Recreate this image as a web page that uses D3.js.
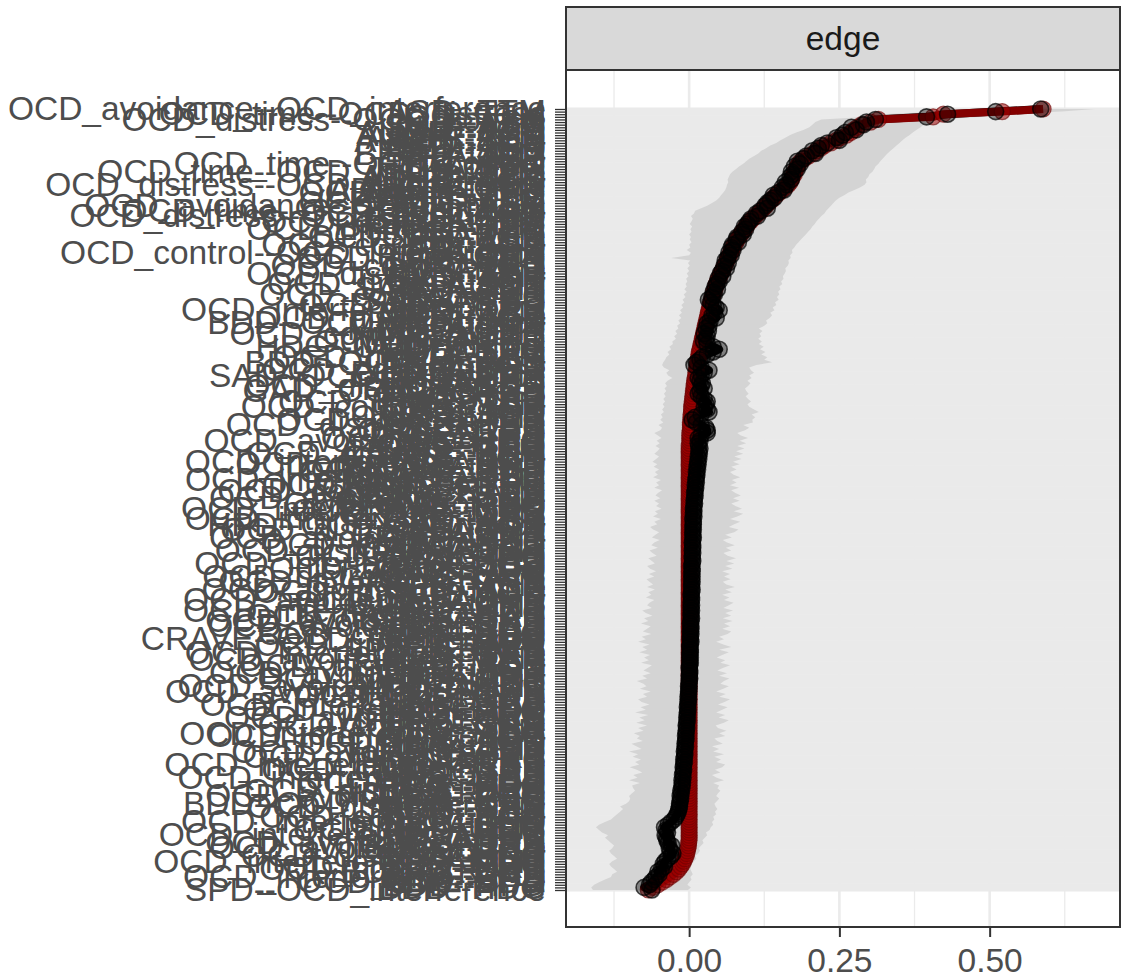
<!DOCTYPE html>
<html><head><meta charset="utf-8">
<script src="https://cdn.jsdelivr.net/npm/d3@7"></script>
<style>body{margin:0;background:#fff;} text{font-family:"Liberation Sans",Arial,sans-serif;}</style>
</head><body><svg id="chart" width="1122" height="980"></svg>
<script>
// edges ordered from bottom (smallest sample value) to top (largest)
const edges = [
"SPD--OCD_interference","BDD--HDG","BDD--HPD","OCD_time--BDD","BDD--SPD","OCD_interference--HPD","BDD--GAD","BDD--CRAVE","OCD_control--BDD","BDD--ORS",
"BDD--PHQ","OCD_interference--AUDIT","BDD--MDD","OCD_distress--HDG","BDD--SAD","BDD--PD","OCD_avoidance--SPD","BDD--PTSD","OCD_avoidance--ORS","BDD--ADHD",
"BDD--TIC","OCD_interference--ADHD","BDD--BED","OCD_time--HDG","BDD--AUDIT","BDD--SUD","OCD_interference--PHQ","BDD--IGD","OCD_control--HPD","BDD--ASD",
"BDD--TTM","HDG--HPD","OCD_distress--SPD","BDD--OCD_interference","HDG--SPD","HDG--GAD","OCD_avoidance--PHQ","HDG--CRAVE","OCD_distress--HPD","HDG--ORS",
"HDG--PHQ","OCD_time--HPD","HDG--MDD","OCD_interference--MDD","HDG--SAD","HDG--PD","OCD_control--SPD","HDG--PTSD","OCD_interference--PTSD","HDG--ADHD",
"HDG--TIC","OCD_distress--ORS","HDG--BED","OCD_avoidance--PD","HDG--AUDIT","HDG--SUD","OCD_time--SPD","HDG--IGD","HDG--ASD","OCD_interference--PD",
"OCD_interference--HDG","HDG--TTM","HPD--SPD","OCD_control--GAD","HPD--GAD","HPD--CRAVE","OCD_avoidance--TIC","HPD--ORS","HPD--PHQ","OCD_distress--PHQ",
"HPD--MDD","OCD_interference--TIC","HPD--SAD","HPD--PD","OCD_time--GAD","HPD--PTSD","OCD_avoidance--CRAVE","HPD--ADHD","OCD_avoidance--AUDIT","HPD--TIC",
"HPD--BED","OCD_control--ORS","HPD--AUDIT","OCD_avoidance--BED","HPD--SUD","HPD--IGD","OCD_distress--MDD","HPD--ASD","OCD_avoidance--PTSD","HPD--TTM",
"SPD--GAD","OCD_interference--BED","SPD--CRAVE","SPD--ORS","OCD_time--CRAVE","SPD--PHQ","CRAVE--OCD_interference","SPD--MDD","OCD_control--PHQ","SPD--SAD",
"SPD--PD","OCD_avoidance--SUD","SPD--PTSD","OCD_avoidance--GAD","SPD--ADHD","OCD_distress--SAD","SPD--TIC","OCD_interference--SUD","SPD--BED","SPD--AUDIT",
"OCD_time--ORS","OCD_avoidance--ADHD","SPD--SUD","SPD--IGD","OCD_control--MDD","OCD_avoidance--MDD","SPD--ASD","SPD--TTM","OCD_avoidance--IGD","GAD--CRAVE",
"OCD_distress--CRAVE","GAD--ORS","GAD--PHQ","OCD_distress--PD","GAD--MDD","OCD_interference--IGD","GAD--SAD","GAD--PD","OCD_time--PHQ","GAD--PTSD",
"OCD_distress--AUDIT","GAD--ADHD","OCD_control--SAD","GAD--TIC","GAD--BED","OCD_avoidance--ASD","GAD--AUDIT","GAD--SUD","OCD_distress--ADHD","GAD--IGD",
"HPD--OCD_avoidance","GAD--ASD","OCD_interference--ASD","GAD--TTM","CRAVE--ORS","OCD_time--MDD","OCD_interference--GAD","CRAVE--PHQ","OCD_control--PD","CRAVE--MDD",
"OCD_avoidance--TTM","CRAVE--SAD","CRAVE--PD","OCD_control--CRAVE","CRAVE--PTSD","OCD_distress--TIC","CRAVE--ADHD","OCD_interference--TTM","CRAVE--TIC","CRAVE--BED",
"OCD_time--SAD","CRAVE--AUDIT","CRAVE--SUD","OCD_control--ADHD","OCD_interference--SAD","CRAVE--IGD","CRAVE--ASD","OCD_distress--BED","CRAVE--TTM","ORS--PHQ",
"ORS--MDD","ORS--SAD","OCD_avoidance--HDG","OCD_time--PD","ORS--PD","ORS--PTSD","ORS--ADHD","ORS--TIC","OCD_distress--PTSD","ORS--BED",
"OCD_control--TIC","ORS--AUDIT","ORS--SUD","ORS--IGD","ORS--ASD","OCD_control--PTSD","ORS--TTM","OCD_time--PTSD","PHQ--MDD","PHQ--SAD",
"PHQ--PD","GAD--OCD_distress","PHQ--PTSD","OCD_distress--SUD","PHQ--ADHD","PHQ--TIC","PHQ--BED","SAD--OCD_avoidance","PHQ--AUDIT","OCD_control--BED",
"PHQ--SUD","PHQ--IGD","BDD--OCD_distress","PHQ--ASD","OCD_time--ADHD","PHQ--TTM","MDD--SAD","MDD--PD","HDG--OCD_control","MDD--PTSD",
"OCD_time--TIC","MDD--ADHD","MDD--TIC","OCD_control--AUDIT","MDD--BED","MDD--AUDIT","MDD--SUD","BDD--OCD_avoidance","MDD--IGD","OCD_distress--IGD",
"MDD--ASD","MDD--TTM","OCD_interference--ORS","SAD--PD","OCD_time--BED","SAD--PTSD","SAD--ADHD","SAD--TIC","OCD_control--SUD","SAD--BED",
"SAD--AUDIT","SAD--SUD","OCD_time--AUDIT","SAD--IGD","SAD--ASD","SAD--TTM","OCD_distress--ASD","PD--PTSD","PD--ADHD","OCD_control--IGD",
"PD--TIC","PD--BED","OCD_time--SUD","PD--AUDIT","OCD_control--OCD_interference","PD--SUD","PD--IGD","OCD_control--ASD","PD--ASD","PD--TTM",
"OCD_time--IGD","PTSD--ADHD","PTSD--TIC","OCD_distress--TTM","PTSD--BED","PTSD--AUDIT","OCD_control--TTM","PTSD--SUD","OCD_distress--OCD_avoidance","PTSD--IGD",
"OCD_time--OCD_avoidance","PTSD--ASD","OCD_avoidance--OCD_control","OCD_time--ASD","PTSD--TTM","ADHD--TIC","ADHD--BED","OCD_time--TTM","ADHD--AUDIT","ADHD--SUD",
"OCD_distress--OCD_interference","ADHD--IGD","ADHD--ASD","ADHD--TTM","TIC--BED","OCD_time--OCD_interference","TIC--AUDIT","TIC--SUD","OCD_time--OCD_control","TIC--IGD",
"TIC--ASD","TIC--TTM","BED--AUDIT","BED--SUD","BED--IGD","BED--ASD","BED--TTM","AUDIT--SUD","AUDIT--IGD","AUDIT--ASD",
"AUDIT--TTM","SUD--IGD","SUD--ASD","SUD--TTM","IGD--ASD","OCD_distress--OCD_control","IGD--TTM","OCD_time--OCD_distress","ASD--TTM","OCD_avoidance--OCD_interference"
];

const sample = [
-0.068,-0.06,-0.052,-0.045,-0.038,-0.032,-0.026,-0.021,-0.017,-0.014,
-0.011,-0.009,-0.007,-0.005,-0.004,-0.003,-0.002,-0.001,-0.001,0,
0,0,0,0,0,0,0,0,0,0, 0,0,0,0,0,0,0,0,0,0, 0,0,0,0,0,0,0,0,0,0,
0,0,0,0,0,0,0,0,0,0, 0,0,0,0,0,0,0,0,0,0, 0,0,0,0,0,0,0,0,0,0,
0,0,0,0,0,0,0,0,0,0, 0,0,0,0,0,0,0,0,0,0, 0,0,0,0,0,0,0,0,0,0,
0,0,0,0,0,0,0,0,0,0, 0,0,0,0,0,0,0,0,0,0, 0,0,0,0,0,0,0,0,0,0,
0,0,0,0,0,0,0,0,0,0, 0,0,0,0,0,0,0,0,0,0, 0,0,0,0,0,0,0,0,0,0,
0,0.001,0.001,0.001,0.001,0.001,0.002,0.002,0.002,0.002,
0.003,0.003,0.003,0.004,0.004,0.004,0.005,0.005,0.006,0.006,
0.007,0.007,0.008,0.008,0.009,0.009,0.01,0.011,0.011,0.012,
0.013,0.013,0.014,0.015,0.016,0.016,0.017,0.018,0.019,0.02,
0.021,0.022,0.023,0.024,0.025,0.026,0.027,0.028,0.029,0.03,
0.031,0.032,0.033,0.034,0.035,0.036,0.037,0.039,0.04,0.041,
0.043,0.044,0.045,0.047,0.049,0.051,0.053,0.055,0.057,0.059,
0.061,0.063,0.065,0.067,0.069,0.071,0.073,0.075,0.078,0.08,
0.083,0.086,0.089,0.092,0.095,0.098,0.102,0.106,0.11,0.115,
0.12,0.124,0.128,0.132,0.137,0.14,0.145,0.15,0.155,0.16,
0.165,0.168,0.17,0.172,0.175,0.176,0.178,0.18,0.182,0.186,
0.192,0.199,0.207,0.212,0.219,0.225,0.236,0.245,0.252,0.262,
0.269,0.274,0.28,0.287,0.302,0.315,0.406,0.423,0.521,0.589
];

const bootMean = [
-0.062,-0.075,-0.066,-0.063,-0.058,-0.055,-0.05,-0.052,-0.046,-0.041,
-0.043,-0.04,-0.036,-0.03,-0.027,-0.031,-0.033,-0.029,-0.035,-0.037,
-0.038,-0.04,-0.036,-0.038,-0.041,-0.035,-0.03,-0.025,-0.022,-0.02,
-0.018,-0.017,-0.016,-0.016,-0.015,-0.014,-0.015,-0.013,-0.014,-0.012,
-0.012,-0.011,-0.012,-0.01,-0.011,-0.01,-0.009,-0.01,-0.009,-0.008,
-0.009,-0.008,-0.007,-0.008,-0.007,-0.006,-0.007,-0.006,-0.005,-0.006,
-0.005,-0.005,-0.004,-0.005,-0.004,-0.003,-0.004,-0.003,-0.003,-0.002,
-0.003,-0.002,-0.002,-0.001,-0.002,-0.001,-0.001,0,-0.001,0,
0,0.001,0,0.001,0.001,0,0.001,0.002,0.001,0.002,
0.001,0.002,0.002,0.001,0.002,0.003,0.002,0.002,0.003,0.002,
0.003,0.003,0.002,0.003,0.004,0.003,0.003,0.004,0.003,0.004,
0.003,0.004,0.004,0.003,0.004,0.005,0.004,0.004,0.005,0.004,
0.005,0.004,0.005,0.005,0.004,0.005,0.006,0.005,0.005,0.006,
0.005,0.006,0.006,0.005,0.006,0.007,0.006,0.006,0.007,0.006,
0.007,0.007,0.006,0.008,0.007,0.008,0.007,0.008,0.009,0.008,
0.009,0.01,0.009,0.01,0.011,0.01,0.012,0.011,0.012,0.013,
0.012,0.014,0.013,0.015,0.014,0.016,0.015,0.017,0.016,0.018,
0.016,0.015,0.018,0.015,0.02,0.03,0.03,0.028,0.02,0.012,
0.005,0.01,0.02,0.033,0.03,0.025,0.028,0.03,0.025,0.02,
0.015,0.018,0.025,0.02,0.022,0.018,0.015,0.02,0.025,0.033,
0.02,0.008,0.012,0.018,0.022,0.03,0.04,0.05,0.04,0.03,
0.024,0.028,0.03,0.025,0.032,0.028,0.033,0.03,0.035,0.045,
0.038,0.042,0.05,0.045,0.04,0.036,0.032,0.038,0.042,0.04,
0.047,0.043,0.046,0.05,0.048,0.056,0.052,0.055,0.062,0.058,
0.065,0.06,0.064,0.07,0.066,0.073,0.07,0.072,0.082,0.078,
0.08,0.09,0.088,0.094,0.092,0.097,0.1,0.103,0.114,0.112,
0.118,0.13,0.126,0.13,0.135,0.142,0.14,0.148,0.158,0.155,
0.162,0.16,0.17,0.168,0.172,0.17,0.18,0.175,0.185,0.18,
0.19,0.195,0.21,0.205,0.215,0.22,0.23,0.25,0.245,0.255,
0.26,0.278,0.27,0.29,0.295,0.31,0.395,0.43,0.51,0.585
];

const ciLower = [
-0.16,-0.163,-0.158,-0.15,-0.14,-0.13,-0.128,-0.12,-0.125,-0.13,
-0.133,-0.128,-0.12,-0.125,-0.13,-0.133,-0.128,-0.125,-0.13,-0.135,
-0.14,-0.135,-0.145,-0.15,-0.155,-0.15,-0.14,-0.13,-0.125,-0.12,
-0.115,-0.11,-0.115,-0.105,-0.1,-0.098,-0.1,-0.095,-0.09,-0.093,
-0.095,-0.082,-0.1,-0.086,-0.093,-0.078,-0.087,-0.099,-0.083,-0.09,
-0.08,-0.094,-0.085,-0.1,-0.079,-0.088,-0.096,-0.077,-0.087,-0.082,
-0.092,-0.076,-0.085,-0.07,-0.088,-0.074,-0.083,-0.068,-0.09,-0.072,
-0.081,-0.066,-0.079,-0.085,-0.07,-0.077,-0.064,-0.082,-0.071,-0.076,
-0.087,-0.07,-0.078,-0.064,-0.076,-0.069,-0.062,-0.08,-0.067,-0.075,
-0.065,-0.083,-0.07,-0.078,-0.066,-0.085,-0.072,-0.079,-0.063,-0.077,
-0.07,-0.064,-0.08,-0.068,-0.075,-0.061,-0.072,-0.078,-0.062,-0.07,
-0.066,-0.058,-0.072,-0.063,-0.068,-0.057,-0.07,-0.06,-0.066,-0.071,
-0.058,-0.067,-0.055,-0.065,-0.07,-0.057,-0.062,-0.068,-0.054,-0.061,
-0.066,-0.052,-0.063,-0.058,-0.049,-0.062,-0.056,-0.05,-0.06,-0.065,
-0.053,-0.058,-0.047,-0.06,-0.052,-0.057,-0.046,-0.055,-0.05,-0.058,
-0.048,-0.056,-0.052,-0.045,-0.058,-0.05,-0.055,-0.047,-0.06,-0.052,
-0.057,-0.05,-0.059,-0.053,-0.061,-0.055,-0.05,-0.058,-0.053,-0.049,
-0.056,-0.049,-0.054,-0.046,-0.052,-0.058,-0.048,-0.045,-0.051,-0.043,
-0.048,-0.044,-0.047,-0.042,-0.045,-0.041,-0.044,-0.04,-0.043,-0.039,
-0.042,-0.038,-0.041,-0.037,-0.04,-0.036,-0.028,-0.035,-0.038,-0.033,
-0.042,-0.045,-0.043,-0.04,-0.038,-0.033,-0.036,-0.03,-0.033,-0.027,
-0.028,-0.022,-0.025,-0.02,-0.023,-0.018,-0.02,-0.015,-0.018,-0.013,
-0.017,-0.012,-0.015,-0.01,-0.013,-0.008,-0.011,-0.006,-0.009,-0.004,
-0.008,-0.004,-0.006,-0.003,-0.005,-0.001,-0.004,0,-0.003,0.001,
-0.002,0.002,-0.03,0,0.003,-0.004,0.002,0,0.004,0.001,
0.003,0,0.004,0.002,0.005,0.001,0.004,0.006,0.003,0.008,
0.01,0.02,0.03,0.038,0.045,0.05,0.053,0.057,0.06,0.062,
0.063,0.065,0.064,0.066,0.068,0.072,0.078,0.083,0.09,0.095,
0.1,0.108,0.115,0.12,0.128,0.135,0.145,0.152,0.16,0.168,
0.178,0.19,0.2,0.205,0.21,0.22,0.3,0.32,0.42,0.49
];

const ciUpper = [
-0.002,0.003,-0.003,0,0.004,0.002,0.006,0.004,0.002,0.003,
0.005,0.008,0.012,0.01,0.015,0.018,0.016,0.02,0.024,0.022,
0.026,0.03,0.028,0.034,0.036,0.04,0.038,0.042,0.04,0.045,
0.043,0.047,0.044,0.042,0.046,0.05,0.045,0.048,0.052,0.047,
0.05,0.04,0.058,0.046,0.038,0.052,0.043,0.055,0.06,0.045,
0.053,0.042,0.058,0.04,0.05,0.038,0.056,0.047,0.042,0.06,
0.05,0.062,0.048,0.044,0.058,0.066,0.049,0.06,0.045,0.055,
0.064,0.048,0.059,0.068,0.05,0.061,0.045,0.057,0.066,0.052,
0.058,0.067,0.05,0.063,0.047,0.056,0.068,0.052,0.06,0.046,
0.055,0.066,0.05,0.07,0.057,0.045,0.058,0.05,0.064,0.07,
0.055,0.068,0.058,0.072,0.056,0.07,0.06,0.073,0.057,0.066,
0.074,0.058,0.067,0.055,0.071,0.06,0.076,0.062,0.056,0.069,
0.058,0.068,0.055,0.072,0.06,0.075,0.062,0.078,0.064,0.057,
0.07,0.061,0.076,0.063,0.056,0.071,0.06,0.075,0.082,0.066,
0.075,0.085,0.068,0.08,0.09,0.074,0.088,0.077,0.07,0.084,
0.073,0.086,0.077,0.07,0.083,0.068,0.079,0.071,0.085,0.074,
0.068,0.079,0.07,0.084,0.073,0.087,0.075,0.09,0.078,0.092,
0.08,0.095,0.084,0.098,0.086,0.08,0.093,0.1,0.09,0.106,
0.105,0.11,0.104,0.116,0.108,0.1,0.097,0.103,0.098,0.094,
0.099,0.095,0.093,0.098,0.102,0.097,0.104,0.1,0.108,0.103,
0.1,0.112,0.138,0.125,0.13,0.12,0.127,0.118,0.124,0.116,
0.121,0.115,0.12,0.117,0.122,0.116,0.125,0.13,0.128,0.134,
0.138,0.135,0.142,0.139,0.145,0.143,0.149,0.146,0.15,0.148,
0.152,0.15,0.155,0.153,0.157,0.156,0.159,0.161,0.16,0.164,
0.166,0.165,0.169,0.168,0.172,0.171,0.175,0.178,0.182,0.186,
0.19,0.194,0.198,0.202,0.205,0.209,0.212,0.216,0.22,0.225,
0.228,0.232,0.236,0.24,0.244,0.25,0.258,0.265,0.275,0.285,
0.292,0.295,0.294,0.298,0.3,0.305,0.308,0.31,0.315,0.318,
0.322,0.326,0.33,0.335,0.34,0.345,0.35,0.355,0.36,0.367,
0.372,0.378,0.385,0.39,0.4,0.41,0.49,0.52,0.62,0.675
];

const xMajorTicks = [0, 0.25, 0.5];
const xMinorTicks = [-0.125, 0.125, 0.375, 0.625];
const facetLabel = "edge";

// ---------- layout ----------
const panel = {left: 566, right: 1120, top: 70, bottom: 927};
const strip = {top: 7, bottom: 70};
const FS = 33.5;
const svg = d3.select("#chart");
const N = edges.length;

const lo = d3.min(ciLower), hi = d3.max(ciUpper), pad = (hi - lo) * 0.05;
const x = d3.scaleLinear().domain([lo - pad, hi + pad]).range([panel.left, panel.right]);
const y = d3.scalePoint().domain(d3.range(N)).range([890, 109]);

svg.append("defs").append("clipPath").attr("id", "pclip")
  .append("rect").attr("x", panel.left).attr("y", panel.top)
  .attr("width", panel.right - panel.left).attr("height", panel.bottom - panel.top);

// panel background
svg.append("rect").attr("x", panel.left).attr("y", panel.top)
  .attr("width", panel.right - panel.left).attr("height", panel.bottom - panel.top)
  .attr("fill", "#fff");

const gridG = svg.append("g").attr("clip-path", "url(#pclip)");
gridG.selectAll("line.minor").data(xMinorTicks).join("line").attr("class", "minor")
  .attr("x1", d => x(d)).attr("x2", d => x(d)).attr("y1", panel.top).attr("y2", panel.bottom)
  .attr("stroke", "#EBEBEB").attr("stroke-width", 1.3);
gridG.selectAll("line.major").data(xMajorTicks).join("line").attr("class", "major")
  .attr("x1", d => x(d)).attr("x2", d => x(d)).attr("y1", panel.top).attr("y2", panel.bottom)
  .attr("stroke", "#EBEBEB").attr("stroke-width", 2.6);
gridG.selectAll("line.hgrid").data(d3.range(N)).join("line").attr("class", "hgrid")
  .attr("x1", panel.left).attr("x2", panel.right).attr("y1", d => y(d)).attr("y2", d => y(d))
  .attr("stroke", "#EAEAEA").attr("stroke-width", 3.2);

const dataG = svg.append("g").attr("clip-path", "url(#pclip)");
const idx = d3.range(N);

// CI ribbon
dataG.append("path").datum(idx)
  .attr("d", d3.area().y(i => y(i)).x0(i => x(ciLower[i])).x1(i => x(ciUpper[i])))
  .attr("fill", "#D4D4D4");

// bootstrap mean line
dataG.append("path").datum(idx)
  .attr("d", d3.line().x(i => x(bootMean[i])).y(i => y(i)))
  .attr("fill", "none").attr("stroke", "#000").attr("stroke-width", 8).attr("stroke-opacity", 0.95)
  .attr("stroke-linejoin", "round");

// sample line
dataG.append("path").datum(idx)
  .attr("d", d3.line().x(i => x(sample[i])).y(i => y(i)))
  .attr("fill", "none").attr("stroke", "#8B0000").attr("stroke-width", 8).attr("stroke-opacity", 0.95)
  .attr("stroke-linejoin", "round");

// sample points
dataG.append("g").selectAll("circle").data(idx).join("circle")
  .attr("cx", i => x(sample[i])).attr("cy", i => y(i)).attr("r", 8)
  .attr("fill", "#9B0000").attr("fill-opacity", 0.55)
  .attr("stroke", "#6B0000").attr("stroke-opacity", 0.6).attr("stroke-width", 1.2);

// bootstrap mean points
dataG.append("g").selectAll("circle").data(idx).join("circle")
  .attr("cx", i => x(bootMean[i])).attr("cy", i => y(i)).attr("r", 8)
  .attr("fill", "#000").attr("fill-opacity", 0.4)
  .attr("stroke", "#000").attr("stroke-opacity", 0.7).attr("stroke-width", 1.6);

// panel border
svg.append("rect").attr("x", panel.left).attr("y", panel.top)
  .attr("width", panel.right - panel.left).attr("height", panel.bottom - panel.top)
  .attr("fill", "none").attr("stroke", "#333").attr("stroke-width", 2);

// strip
svg.append("rect").attr("x", panel.left).attr("y", strip.top)
  .attr("width", panel.right - panel.left).attr("height", strip.bottom - strip.top)
  .attr("fill", "#D9D9D9").attr("stroke", "#333").attr("stroke-width", 2);
svg.append("text").attr("x", (panel.left + panel.right) / 2).attr("y", 50)
  .attr("text-anchor", "middle").attr("font-size", FS).attr("fill", "#1A1A1A").text(facetLabel);

// y axis
const yAxis = svg.append("g").attr("transform", `translate(${panel.left},0)`)
  .call(d3.axisLeft(y).tickSize(11).tickPadding(9).tickFormat(i => edges[i]));
yAxis.select(".domain").remove();
yAxis.selectAll("line").attr("stroke", "#333").attr("stroke-width", 1.3);
yAxis.selectAll("text").attr("font-size", FS).attr("fill", "#4D4D4D")
  .attr("font-family", '"Liberation Sans", Arial, sans-serif');

// x axis
const xAxis = svg.append("g").attr("transform", `translate(0,${panel.bottom})`)
  .call(d3.axisBottom(x).tickValues(xMajorTicks).tickFormat(d3.format(".2f")).tickSize(10).tickPadding(11));
xAxis.select(".domain").remove();
xAxis.selectAll("line").attr("stroke", "#333").attr("stroke-width", 2);
xAxis.selectAll("text").attr("font-size", FS).attr("fill", "#4D4D4D")
  .attr("font-family", '"Liberation Sans", Arial, sans-serif');
</script></body></html>
